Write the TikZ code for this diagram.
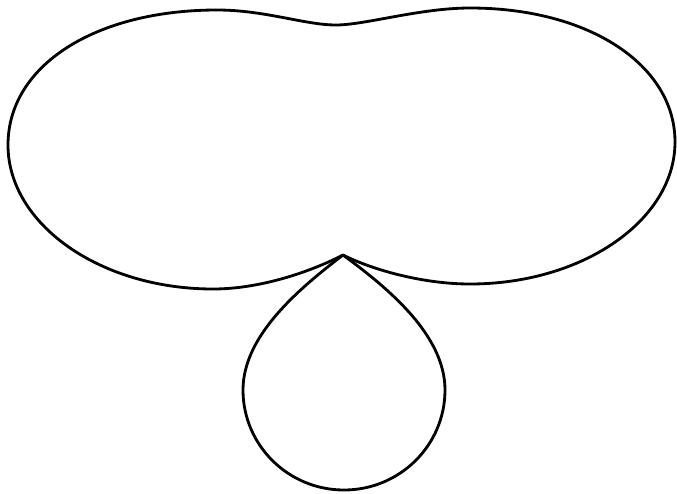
\documentclass[tikz,border=0pt]{standalone}
\begin{document}
\begin{tikzpicture}[x=0.03cm,y=-0.03cm,
  curve/.style={line width=2.4pt,line join=round,line cap=round}]
\useasboundingbox (0,0) rectangle (677,493);
\coordinate (cusp) at (343,255);
% upper two-lobed outline
\draw[curve] (cusp)
  .. controls (310,272) and (260,289) .. (213,289)
  .. controls (100,289) and (8,224) .. (8,145)
  .. controls (8,65) and (96,10) .. (217,10)
  .. controls (265,10) and (305,25) .. (336,25)
  .. controls (365,25) and (420,8) .. (470,8)
  .. controls (589,8) and (675,65) .. (675,142)
  .. controls (675,220) and (583,284) .. (470,284)
  .. controls (425,284) and (375,271) .. (cusp);
% lower teardrop loop
\draw[curve] (cusp)
  .. controls (300,288) and (243,335) .. (243,390)
  .. controls (243,445) and (288,490) .. (344,490)
  .. controls (400,490) and (445,445) .. (445,390)
  .. controls (445,335) and (388,288) .. (cusp);
\end{tikzpicture}
\end{document}
